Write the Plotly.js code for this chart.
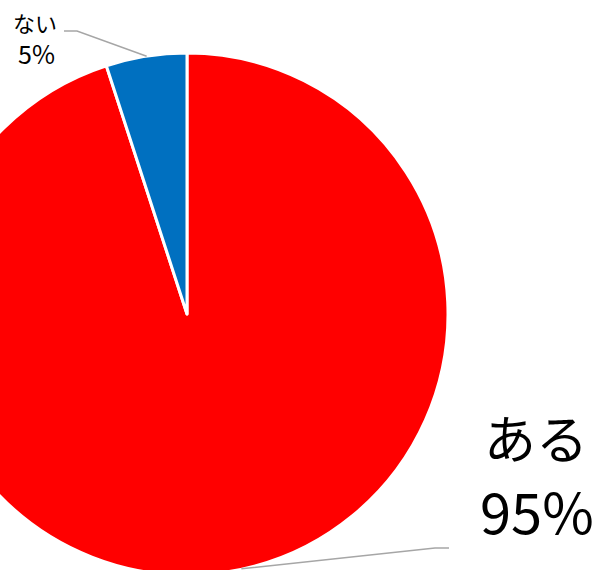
<!DOCTYPE html>
<html><head><meta charset="utf-8">
<script src="https://cdn.plot.ly/plotly-3.0.1.min.js"></script>
<style>html,body{margin:0;padding:0;overflow:hidden;width:607px;height:570px;background:#fff}
#c{position:absolute;left:-80px;top:0;width:687px;height:652px}</style>
</head><body><div id="c"></div>
<script>
const labels = ["ある", "ない"];
const values = [95, 5];
const colors = ["#ff0000", "#0070c0"];

// layout geometry (page pixels)
const OFFX = -80, W = 687, H = 652;
const CX = 187, CY = 314, R = 261, RV = 258;
const px = x => (x - OFFX) / W;
const py = y => 1 - y / H;

const total = values.reduce((a, b) => a + b, 0);
let acc = 0;
const mids = values.map(v => { const m = (acc + v / 2) / total * 2 * Math.PI; acc += v; return m; });
const edge = i => [CX + RV * Math.sin(mids[i]), CY - RV * Math.cos(mids[i])];

const e0 = edge(0), e1 = edge(1);
const lineStyle = {color: "#a6a6a6", width: 1.5};
const shapes = [
  {type: "path", xref: "paper", yref: "paper",
   path: `M ${px(e0[0] + 14)} ${py(e0[1])} L ${px(435)} ${py(548)} L ${px(449)} ${py(548)}`, line: lineStyle},
  {type: "path", xref: "paper", yref: "paper",
   path: `M ${px(e1[0])} ${py(e1[1] - 3)} L ${px(77)} ${py(31)} L ${px(64)} ${py(31)}`, line: lineStyle}
];

const pct = v => Math.round(v / total * 100) + "%";
const ann = (text, x, y, size) => ({xref: "paper", yref: "paper", x: px(x), y: py(y),
  xanchor: "center", yanchor: "middle", text: text, showarrow: false,
  font: {family: "Noto Sans CJK JP", size: size, color: "#000"}});
const annotations = [
  ann(labels[0], 536, 436, 52),
  ann(pct(values[0]), 537, 509, 56),
  ann(labels[1], 35, 22, 22),
  ann(pct(values[1]), 36, 53, 25)
];

Plotly.newPlot("c", [{
  type: "pie", labels: labels, values: values, sort: false, direction: "clockwise", rotation: 0,
  marker: {colors: colors, line: {color: "#ffffff", width: 3}},
  textinfo: "none", hoverinfo: "label+percent",
  domain: {x: [px(CX - R), px(CX + R)], y: [py(CY + R), py(CY - R)]}
}], {
  width: W, height: H, margin: {l: 0, r: 0, t: 0, b: 0},
  showlegend: false, paper_bgcolor: "#fff",
  shapes: shapes, annotations: annotations
}, {displayModeBar: false, staticPlot: true});
</script></body></html>
